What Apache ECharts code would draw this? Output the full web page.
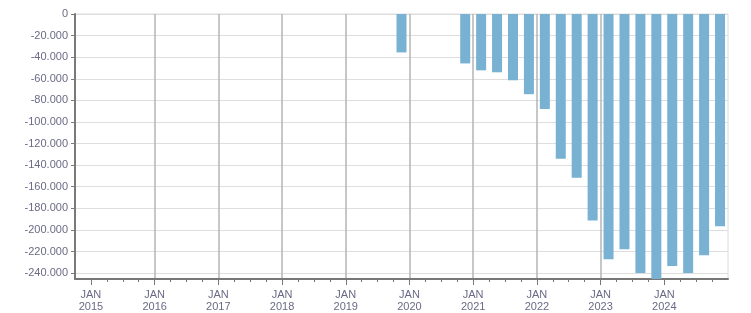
<!DOCTYPE html>
<html>
<head>
<meta charset="utf-8">
<script src="https://cdn.jsdelivr.net/npm/echarts@6/dist/echarts.min.js"></script>
<style>
html,body{margin:0;padding:0;background:#fff;}
#chart{width:751px;height:313px;}
</style>
</head>
<body>
<div id="chart"></div>
<script>
// Quarters (bars are placed at the middle of each quarter)
const quarters = ["2019 Q4","2020 Q4","2021 Q1","2021 Q2","2021 Q3","2021 Q4","2022 Q1","2022 Q2","2022 Q3","2022 Q4","2023 Q1","2023 Q2","2023 Q3","2023 Q4","2024 Q1","2024 Q2","2024 Q3","2024 Q4"];
const values = [-35600,-45800,-52200,-54000,-61400,-74300,-88100,-134100,-151600,-191200,-227100,-217900,-240000,-245500,-233500,-240000,-223400,-196700];
const yearLabels = [2015,2016,2017,2018,2019,2020,2021,2022,2023,2024];
const monthLabel = "JAN";

function quarterToYear(q){
  const p = q.split(" Q");
  return Number(p[0]) + (Number(p[1]) - 0.5) / 4;
}
const seriesData = quarters.map((q,i)=>[quarterToYear(q), values[i]]);
const quarterTicks = [];
yearLabels.forEach(y=>{ [0.25,0.5,0.75].forEach(f=>quarterTicks.push(y+f)); });

function fmtNum(v){
  const s = String(Math.abs(Math.round(v))).replace(/\B(?=(\d{3})+(?!\d))/g, ".");
  return (v < 0 ? "-" : "") + s;
}

const labelColor = "#6a6a85";
const fontFamily = "Liberation Sans, Arial, sans-serif";
const xMin = 2014.75, xMax = 2025;

const chart = echarts.init(document.getElementById("chart"), null, {renderer:"canvas"});
chart.setOption({
  animation:false,
  grid:{left:75,right:23,top:14,bottom:33,show:true,borderColor:"#dcdcdc",borderWidth:1,backgroundColor:"transparent"},
  xAxis:[
    {
      type:"value", min:xMin, max:xMax, interval:0.25, position:"bottom",
      axisLine:{show:true,onZero:false,lineStyle:{color:"#777777",width:2}},
      axisTick:{show:true,length:3,customValues:quarterTicks,lineStyle:{color:"#777777",width:1}},
      axisLabel:{show:false},
      splitLine:{show:false}
    },
    {
      type:"value", min:xMin, max:xMax, minInterval:1, maxInterval:1, position:"bottom",
      axisLine:{show:false,onZero:false},
      axisTick:{show:true,length:6,customValues:yearLabels,lineStyle:{color:"#777777",width:1}},
      axisLabel:{
        show:true, margin:10, color:labelColor, fontFamily:fontFamily, fontSize:11, lineHeight:12,
        customValues:yearLabels,
        formatter:function(v){ return monthLabel + "\n" + Math.round(v); }
      },
      splitLine:{show:true,showMinLine:false,showMaxLine:false,lineStyle:{color:"#b5b5b5",width:1.5}}
    }
  ],
  yAxis:{
    type:"value", min:-245500, max:0, minInterval:20000, maxInterval:20000,
    axisLine:{show:true,onZero:false,lineStyle:{color:"#7a7a7a",width:2}},
    axisTick:{show:true,length:4,lineStyle:{color:"#7a7a7a"}},
    axisLabel:{margin:7,color:labelColor,fontFamily:fontFamily,fontSize:11,showMinLabel:false,formatter:fmtNum},
    splitLine:{show:true,lineStyle:{color:"#dedede",width:1}}
  },
  series:[{
    type:"bar", xAxisIndex:0, data:seriesData, barWidth:10,
    itemStyle:{color:"#79b1d3"}
  }]
});
</script>
</body>
</html>
